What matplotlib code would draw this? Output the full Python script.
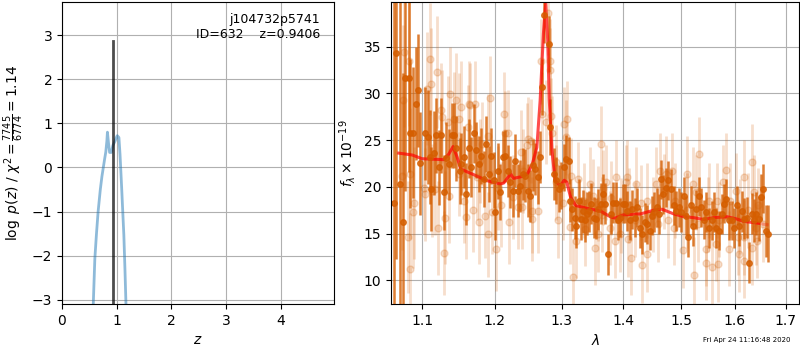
import matplotlib
matplotlib.use('Agg')
import matplotlib.pyplot as plt
from matplotlib.ticker import ScalarFormatter, NullFormatter, NullLocator

# p(z) curve
zgrid = [0.57, 0.60, 0.63, 0.66, 0.70, 0.73, 0.755, 0.78, 0.80, 0.82, 0.83, 0.85,
         0.87, 0.90, 0.93, 0.97, 1.00, 1.01, 1.04, 1.06, 1.09, 1.11, 1.13, 1.15, 1.17]
log_pz = [-3.15, -2.07, -1.5, -1.0, -0.5, -0.2, 0.0, 0.2, 0.35, 0.6, 0.8, 0.55,
          0.34, 0.34, 0.5, 0.6, 0.7, 0.72, 0.68, 0.3, -0.46, -1.0, -1.53, -2.3, -3.15]
z_best = 0.9406
z_line_top = 2.87
chi2_num, chi2_den, chi2_red = 7745, 6774, 1.14
obj_name = 'j104732p5741'
obj_id = 632

# binned spectrum (dark points)
wave_bin = [1.0632, 1.0666, 1.0718, 1.0747, 1.0782, 1.0825, 1.0847, 1.0882, 1.0926, 1.0948,
            1.0978, 1.1044, 1.1074, 1.1100, 1.1122, 1.1153, 1.1185, 1.1221, 1.1253, 1.1288,
            1.1325, 1.1362, 1.1403, 1.1434, 1.1461, 1.1507, 1.1530, 1.1572, 1.1600, 1.1631,
            1.1665, 1.1702, 1.1735, 1.1772, 1.1806, 1.1843, 1.1876, 1.1914, 1.1948, 1.1985,
            1.2009, 1.2043, 1.2082, 1.2121, 1.2154, 1.2188, 1.2228, 1.2262, 1.2301, 1.2335,
            1.2374, 1.2414, 1.2448, 1.2488, 1.2523, 1.2563, 1.2599, 1.2634, 1.2664, 1.2700,
            1.2735, 1.2801, 1.2827, 1.2878, 1.2920, 1.2955, 1.2993, 1.3034, 1.3072, 1.3112,
            1.3139, 1.3170, 1.3207, 1.3234, 1.3271, 1.3298, 1.3330, 1.3367, 1.3394, 1.3437,
            1.3474, 1.3511, 1.3555, 1.3587, 1.3625, 1.3664, 1.3690, 1.3746, 1.3785, 1.3830,
            1.3868, 1.3901, 1.3940, 1.3985, 1.4030, 1.4064, 1.4103, 1.4142, 1.4188, 1.4227,
            1.4272, 1.4312, 1.4358, 1.4398, 1.4444, 1.4484, 1.4530, 1.4571, 1.4617, 1.4647,
            1.4687, 1.4734, 1.4775, 1.4823, 1.4869, 1.4912, 1.4954, 1.5002, 1.5049, 1.5092,
            1.5134, 1.5183, 1.5225, 1.5274, 1.5317, 1.5366, 1.5417, 1.5464, 1.5514, 1.5562,
            1.5607, 1.5650, 1.5700, 1.5749, 1.5800, 1.5838, 1.5889, 1.5939, 1.5985, 1.6035,
            1.6081, 1.6131, 1.6184, 1.6229, 1.6276, 1.6326, 1.6373, 1.6418, 1.6471, 1.6503,
            1.6550, 1.6601, 1.6655]
flux_bin = [18.3, 34.3, 20.3, 16.2, 31.6, 31.6, 25.7, 25.8, 28.9, 30.3,
            22.5, 25.7, 25.3, 23.2, 19.8, 23.6, 25.5, 22.1, 25.5, 19.4,
            23.1, 22.4, 25.5, 25.5, 24.1, 21.7, 22.4, 23.2, 19.2, 24.1,
            22.1, 25.7, 23.9, 22.4, 23.3, 20.8, 24.6, 21.4, 23.3, 20.7,
            17.3, 21.7, 19.4, 23.2, 23.3, 21.7, 20.5, 19.6, 22.8, 19.6,
            20.1, 21.4, 21.2, 19.6, 19.0, 22.3, 21.9, 21.0, 23.2, 30.7,
            38.4, 35.3, 26.4, 21.4, 20.7, 19.8, 20.1, 22.1, 23.0, 22.8,
            18.5, 17.6, 16.7, 15.8, 18.5, 16.6, 17.4, 16.4, 17.1, 17.4,
            18.2, 16.7, 16.6, 17.6, 18.2, 19.2, 18.2, 12.8, 17.1, 18.3,
            18.3, 16.4, 16.7, 18.2, 18.2, 17.4, 16.4, 17.6, 16.7, 17.8,
            15.6, 14.9, 16.2, 16.0, 15.3, 16.9, 17.3, 17.8, 17.1, 20.8,
            19.2, 19.9, 20.7, 19.8, 18.0, 17.4, 17.8, 17.3, 19.0, 16.9,
            14.6, 18.0, 15.8, 17.6, 19.0, 17.8, 16.5, 17.3, 15.6, 16.4,
            17.3, 15.6, 15.3, 17.1, 18.2, 18.7, 16.4, 16.4, 15.6, 18.0,
            15.8, 17.4, 16.6, 16.7, 11.9, 17.1, 16.4, 17.1, 16.6, 18.9,
            19.8, 15.3, 15.0]
err_bin = [22, 22, 20, 16, 12, 10, 8, 7, 6, 6,
           5.5, 5, 5, 5, 4.5, 4.5, 4, 4, 4, 4,
           3.8, 3.8, 3.5, 3.5, 3.5, 3.5, 3.3, 3.3, 3.3, 3.2,
           3.2, 3.2, 3, 3, 3, 3, 3, 3, 3, 3,
           3, 3, 3, 2.8, 2.8, 2.8, 2.8, 2.8, 2.8, 2.8,
           2.8, 2.8, 2.8, 2.8, 2.8, 2.8, 2.8, 2.8, 2.8, 3,
           3, 3, 3, 2.8, 2.5, 2.5, 2.5, 2.5, 2.5, 2.5,
           2.3, 2.3, 2.3, 2.3, 2.3, 2.3, 2.3, 2.3, 2.3, 2.2,
           2.2, 2.2, 2.2, 2.2, 2.2, 2.2, 2.2, 2.2, 2.2, 2.2,
           2.2, 2.1, 2.1, 2.1, 2.1, 2.1, 2.1, 2.1, 2.1, 2.1,
           2.1, 2.1, 2.1, 2.1, 2.1, 2.1, 2.1, 2.1, 2.1, 2.1,
           2.1, 2.1, 2.1, 2.1, 2.1, 2.1, 2.1, 2.1, 2.1, 2.1,
           2.1, 2.1, 2.1, 2.1, 2.1, 2.1, 2.1, 2.1, 2.1, 2.1,
           2.1, 2.1, 2.1, 2.1, 2.1, 2.1, 2.1, 2.1, 2.1, 2.1,
           2.1, 2.2, 2.2, 2.2, 2.2, 2.2, 2.3, 2.3, 2.4, 2.5,
           2.6, 2.8, 3]

# individual spectrum (light points)
wave_raw = [1.0769, 1.0825, 1.0747, 1.1100, 1.1199, 1.1120, 1.1066, 1.1253, 1.1267, 1.1379,
            1.1457, 1.1530, 1.1493, 1.1425, 1.1343, 1.0740, 1.0838, 1.0890, 1.0882, 1.0820,
            1.0845, 1.1021, 1.1044, 1.1132, 1.1176, 1.1207, 1.1311, 1.1298, 1.1356, 1.1493,
            1.1562, 1.1600, 1.1631, 1.1618, 1.1651, 1.1721, 1.1934, 1.2138, 1.2148, 1.2188,
            1.1900, 1.1814, 1.1791, 1.1745, 1.1693, 1.1777, 1.1862, 1.1905, 1.1957, 1.2013,
            1.2053, 1.2092, 1.2208, 1.2271, 1.2335, 1.2385, 1.2394, 1.2467, 1.2493, 1.2533,
            1.2419, 1.2542, 1.2553, 1.2644, 1.2685, 1.2694, 1.2756, 1.2792, 1.2827, 1.2817,
            1.2832, 1.2858, 1.2910, 1.2912, 1.2948, 1.3015, 1.3034, 1.3077, 1.3066, 1.3155,
            1.3262, 1.3128, 1.3223, 1.3181, 1.3367, 1.3447, 1.3528, 1.3582, 1.3584, 1.3636,
            1.3653, 1.3718, 1.3774, 1.3868, 1.3857, 1.3951, 1.3940, 1.4064, 1.4047, 1.4217,
            1.4301, 1.4119, 1.4312, 1.4404, 1.4074, 1.4560, 1.4588, 1.4635, 1.4734, 1.4832,
            1.4763, 1.4880, 1.5031, 1.5110, 1.5212, 1.5243, 1.5334, 1.5273, 1.5838, 1.5775,
            1.5668, 1.5514, 1.5451, 1.5464, 1.5562, 1.5670, 1.5637, 1.5889, 1.6016, 1.6068,
            1.6177, 1.6179, 1.6326, 1.6373, 1.6404, 1.6339, 1.6081, 1.6180, 1.6438, 1.3350,
            1.3500, 1.3650, 1.3800, 1.4100, 1.4200, 1.4400, 1.4500, 1.4700, 1.4900, 1.5100,
            1.5300, 1.5500, 1.5700, 1.5900, 1.6100, 1.6250, 1.6450, 1.6550]
flux_raw = [34.4, 33.5, 29.3, 33.7, 32.3, 31.0, 30.5, 28.2, 27.5, 29.9,
            29.3, 28.5, 27.2, 27.3, 26.9, 21.2, 21.4, 18.3, 17.3, 14.6,
            11.2, 19.9, 19.2, 19.6, 19.8, 15.6, 16.7, 12.9, 19.0, 21.4,
            18.5, 16.8, 28.9, 26.4, 28.7, 28.9, 29.5, 27.8, 25.7, 25.8,
            25.4, 24.6, 22.8, 21.0, 17.5, 16.2, 16.9, 14.9, 17.3, 13.4,
            19.9, 18.1, 16.2, 18.9, 17.8, 23.7, 17.8, 24.5, 25.1, 24.9,
            21.7, 17.4, 16.6, 17.4, 33.4, 27.8, 26.9, 38.6, 33.4, 32.5,
            27.6, 25.7, 22.6, 20.5, 16.4, 18.3, 26.7, 27.3, 25.3, 21.2,
            20.8, 15.7, 14.2, 10.4, 15.5, 20.3, 13.5, 14.9, 18.2, 24.6,
            19.9, 20.5, 15.6, 21.0, 14.2, 16.9, 14.9, 21.0, 20.5, 20.3,
            18.3, 12.4, 11.6, 12.8, 14.4, 20.3, 16.0, 21.7, 21.4, 21.7,
            16.4, 15.6, 13.2, 21.4, 20.3, 10.6, 23.5, 19.4, 21.8, 20.5,
            18.5, 18.5, 13.4, 11.9, 11.4, 11.7, 13.9, 13.4, 19.6, 14.6,
            21.0, 14.6, 22.7, 19.4, 15.6, 13.5, 12.8, 12.1, 14.2, 18.5,
            19.0, 17.0, 18.8, 18.0, 16.5, 18.5, 17.0, 19.5, 18.5, 17.5,
            16.0, 17.0, 16.5, 18.5, 16.8, 17.5, 18.0, 16.0]
err_raw = [8, 7, 8, 6, 6, 6, 6, 5, 5, 5,
           5, 5, 5, 5, 5, 8, 7, 6, 6, 6,
           6, 5, 5, 5, 5, 5, 5, 4.5, 5, 4.5,
           4.5, 4.5, 4.5, 4.5, 4.5, 4.5, 4.5, 4.5, 4.5, 4.5,
           4.5, 4.5, 4.5, 4.5, 4.5, 4.5, 4.5, 4.5, 4.5, 4.5,
           4.5, 4.5, 4.5, 4.5, 4.5, 4.5, 4.5, 4.5, 4.5, 4.5,
           4.5, 4.5, 4.5, 4.5, 4.5, 4.5, 4.5, 4.5, 4.5, 4.5,
           4, 4, 4, 4, 4, 4, 4, 4, 4, 4,
           4, 4, 4, 4, 4, 4, 4, 4, 4, 4,
           4, 4, 4, 4, 4, 4, 4, 4, 4, 4,
           4, 4, 4, 4, 4, 4, 4, 4, 4, 4,
           4, 4, 4, 4, 4, 4, 4, 4, 4, 4,
           4, 4, 4, 4, 4, 4, 4, 4, 4, 4,
           4, 4, 4, 4, 4, 4, 4, 4, 4, 4,
           4, 4, 4, 4, 4, 4, 4, 4, 4, 4,
           4, 4, 4, 4, 4, 4, 4, 4]

# best-fit model
wave_model = [1.0696, 1.087, 1.100, 1.129, 1.1357, 1.1415, 1.147, 1.152, 1.170, 1.189,
              1.208, 1.213, 1.223, 1.227, 1.240, 1.248, 1.255, 1.262, 1.267, 1.272,
              1.2755, 1.2785, 1.281, 1.285, 1.290, 1.298, 1.304, 1.308, 1.314, 1.322,
              1.340, 1.362, 1.378, 1.386, 1.400, 1.429, 1.452, 1.466, 1.487, 1.505,
              1.523, 1.541, 1.560, 1.585, 1.604, 1.617, 1.646]
flux_model = [23.6, 23.4, 23.0, 22.9, 23.5, 24.3, 23.2, 21.9, 21.3, 20.65,
              20.3, 20.4, 21.4, 20.9, 21.1, 21.4, 22.4, 24.2, 29.2, 36.4,
              39.6, 35.7, 29.2, 23.9, 20.65, 20.1, 20.7, 20.5, 18.9, 18.0,
              17.7, 17.4, 16.8, 16.65, 17.0, 17.1, 17.5, 17.6, 17.1, 16.8,
              16.7, 16.5, 16.7, 16.8, 16.55, 16.3, 16.1]
wave_model_tail = [1.646, 1.655, 1.663]
flux_model_tail = [16.1, 16.0, 15.95]

timestamp = 'Fri Apr 24 11:16:48 2020'
grism_color = (0.8352941176470589, 0.3686274509803922, 0.0)

fig = plt.figure(figsize=(8, 3.5), dpi=100)
ax = fig.add_axes([0.0775, 0.131, 0.34, 0.863])
ax2 = fig.add_axes([0.489, 0.131, 0.510, 0.863])

# p(z) panel
ax.plot(zgrid, log_pz, color='C0', alpha=0.5, lw=2)
ax.plot([z_best, z_best], [-3.3, z_line_top], color='k', alpha=0.7, lw=2)
ax.set_xlim(0, 4.97)
ax.set_ylim(-3.1, 3.75)
ax.set_xlabel('$z$')
ax.set_ylabel(r'$\log\ p(z)$' + ' / ' + r'$\chi^2=\frac{%d}{%d}=%.2f$' % (chi2_num, chi2_den, chi2_red))
ax.text(0.95, 0.965, '%s\nID=%d    z=%.4f' % (obj_name, obj_id, z_best),
        transform=ax.transAxes, ha='right', va='top', fontsize=9)
ax.grid()

# spectrum panel
ax2.errorbar(wave_raw, flux_raw, yerr=err_raw, marker='o', linestyle='None',
             color=grism_color, alpha=0.2, ms=5, elinewidth=2, capsize=0)
ax2.errorbar(wave_bin, flux_bin, yerr=err_bin, marker='o', linestyle='None',
             color=grism_color, alpha=0.8, ms=4, elinewidth=1.8, capsize=0)
ax2.plot(wave_model, flux_model, color='r', alpha=0.7, lw=2.2)
ax2.plot(wave_model_tail, flux_model_tail, color='r', alpha=0.3, lw=2.2)

ax2.set_xscale('log')
ax2.set_xlim(1.06, 1.728)
ax2.set_ylim(7.45, 39.75)
ax2.set_xticks([1.1, 1.2, 1.3, 1.4, 1.5, 1.6, 1.7])
ax2.xaxis.set_major_formatter(ScalarFormatter())
ax2.xaxis.set_minor_locator(NullLocator())
ax2.xaxis.set_minor_formatter(NullFormatter())
ax2.set_xlabel(r'$\lambda$')
ax2.set_ylabel(r'$f_\lambda\times 10^{-19}$')
ax2.grid()

fig.text(0.988, 0.02, timestamp, ha='right', va='bottom', fontsize=5)

fig.savefig('out.png', dpi=100)
